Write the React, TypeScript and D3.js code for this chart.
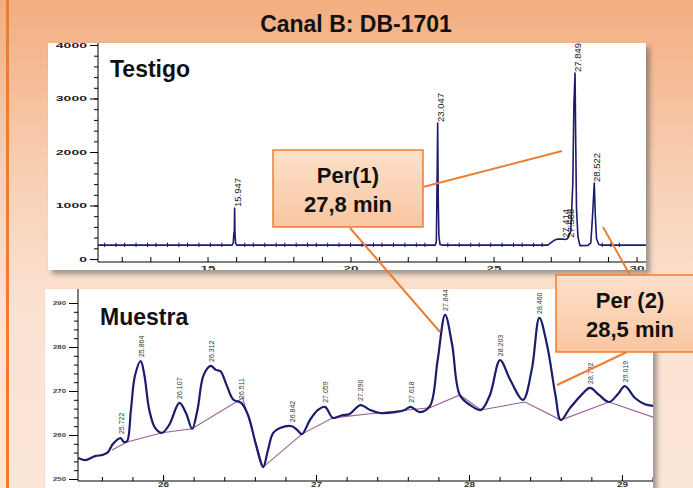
import React, { useEffect, useRef } from "react";
import * as d3 from "d3";

// Testigo (standard) trace: [time in min, signal]
const testigoSignal: [number, number][] = [
  [11.17, 260], [15.86, 260], [15.9, 300], [15.92, 480], [15.935, 500], [15.947, 953],
  [15.96, 470], [15.98, 300], [16.02, 260], [22.96, 260], [23.0, 320], [23.02, 1200],
  [23.047, 2542], [23.065, 1150], [23.09, 420], [23.13, 270], [23.2, 260], [26.9, 260],
  [27.0, 300], [27.12, 350], [27.25, 372], [27.414, 374], [27.5, 366], [27.588, 380],
  [27.7, 520], [27.77, 1400], [27.81, 2900], [27.849, 3477], [27.875, 2100], [27.9, 950],
  [27.95, 420], [28.02, 250], [28.3, 255], [28.4, 300], [28.46, 800], [28.522, 1420],
  [28.555, 850], [28.6, 380], [28.68, 270], [28.8, 260], [30.4, 260],
];
const testigoPeakTimes = [15.947, 23.047, 27.414, 27.588, 27.849, 28.522];
const testigoPeakHeights = [953, 2542, 374, 380, 3477, 1420];
const testigoNoiseTimes = [
  11.4, 11.8, 12.1, 12.5, 12.9, 13.2, 13.6, 14.0, 14.3, 14.7, 15.1, 15.5, 16.3, 16.6,
  17.0, 17.4, 17.7, 18.1, 18.5, 18.8, 19.2, 19.6, 20.0, 20.4, 20.8, 21.1, 21.5, 21.9,
  22.3, 22.6, 23.4, 23.8, 24.2, 24.5, 24.9, 25.3, 25.7, 26.0, 26.4, 26.7, 28.8, 29.1, 29.4,
];
const testigoYTicks = [0, 1000, 2000, 3000, 4000];
const testigoXTicks = [15, 20, 25, 30];

// Muestra (sample) trace
const muestraSignal: [number, number][] = [
  [25.444, 254.8], [25.49, 254.3], [25.556, 255.2], [25.608, 255.5], [25.64, 256.1],
  [25.673, 258], [25.722, 259.3], [25.745, 258.4], [25.765, 258.6], [25.79, 265.7],
  [25.817, 273.6], [25.854, 276.8], [25.878, 273.6], [25.91, 265.7], [25.948, 261.6],
  [25.993, 260.5], [26.04, 262.3], [26.107, 267.3], [26.15, 265], [26.19, 261.4],
  [26.225, 265.7], [26.265, 273.6], [26.312, 275.7], [26.345, 274.8], [26.375, 274.5],
  [26.415, 271.4], [26.46, 268], [26.511, 267.3], [26.556, 264.5], [26.608, 257.7],
  [26.654, 252.7], [26.686, 256.6], [26.72, 260.5], [26.765, 261.6], [26.842, 262],
  [26.878, 261.1], [26.908, 260.2], [26.96, 263.4], [27.013, 265.7], [27.059, 266.4],
  [27.11, 263.9], [27.17, 264.5], [27.22, 264.8], [27.29, 266.8], [27.353, 265.7],
  [27.418, 265], [27.516, 265.2], [27.58, 265.7], [27.618, 266.4], [27.68, 265.2],
  [27.745, 266.6], [27.795, 277], [27.844, 287.3], [27.89, 280.5], [27.94, 269.1],
  [28.007, 266.8], [28.078, 265.7], [28.137, 269.1], [28.203, 277], [28.27, 272.5],
  [28.353, 268], [28.41, 274.8], [28.46, 286.6], [28.51, 280.5], [28.565, 269.1],
  [28.6, 263.4], [28.66, 266.1], [28.74, 269.3], [28.792, 270.7], [28.85, 269.1],
  [28.915, 267.5], [28.974, 269.3], [29.019, 271.1], [29.085, 268.4], [29.15, 267],
  [29.216, 266.6],
];
const muestraBaseline: [number, number][] = [
  [25.667, 256.6], [25.765, 258.4], [25.993, 260.5], [26.19, 261.4], [26.52, 268.4],
  [26.654, 252.7], [26.908, 260.2], [27.11, 263.9], [27.4, 265], [27.745, 266.2],
  [27.94, 269.1], [28.078, 265.7], [28.366, 267.5], [28.6, 263.4], [28.915, 267.5],
  [29.216, 263.9],
];
const muestraPeakTimes = [
  25.722, 25.854, 26.107, 26.312, 26.511, 26.842, 27.059, 27.29, 27.618, 27.844,
  28.203, 28.46, 28.792, 29.019,
];
const muestraPeakHeights = [
  259.3, 276.8, 267.3, 275.7, 267.3, 262, 266.4, 266.8, 266.4, 287.3, 277, 286.6,
  270.7, 271.1,
];
const muestraPeakLabels = [
  "25.722", "25.864", "26.107", "26.312", "26.511", "26.842", "27.059", "27.290",
  "27.618", "27.844", "28.203", "28.460", "28.792", "29.019",
];
const muestraYTicks = [250, 260, 270, 280, 290];
const muestraXTicks = [26, 27, 28, 29];

const NAVY = "#1c1c6e";
const ORANGE = "#ed7d31";
const NARROW = "'Liberation Sans Narrow', 'Arial Narrow', 'Liberation Sans', sans-serif";
const SANS = "'Liberation Sans', Arial, sans-serif";
const BIG = 23;

const App = () => {
  const svgRef = useRef<SVGSVGElement>(null);

  useEffect(() => {
    const w = 693;
    const h = 488;
    const svg = d3.select(svgRef.current).attr("width", w).attr("height", h);
    svg.selectAll("*").remove();

    const defs = svg.append("defs");
    const bg = defs.append("linearGradient").attr("id", "bg").attr("x1", 0).attr("y1", 0).attr("x2", 0).attr("y2", 1);
    bg.append("stop").attr("offset", "0%").attr("stop-color", "#f3ad7f");
    bg.append("stop").attr("offset", "35%").attr("stop-color", "#f8cfb3");
    bg.append("stop").attr("offset", "65%").attr("stop-color", "#fbe3d3");
    bg.append("stop").attr("offset", "100%").attr("stop-color", "#fce6d8");
    const box = defs.append("linearGradient").attr("id", "box").attr("x1", 0).attr("y1", 0).attr("x2", 0).attr("y2", 1);
    box.append("stop").attr("offset", "0%").attr("stop-color", "#fde0ca");
    box.append("stop").attr("offset", "100%").attr("stop-color", "#f9c6a1");
    const sh = defs.append("filter").attr("id", "sh").attr("x", "-5%").attr("y", "-5%").attr("width", "115%").attr("height", "120%");
    sh.append("feDropShadow").attr("dx", 4).attr("dy", 4).attr("stdDeviation", 2.5)
      .attr("flood-color", "#555").attr("flood-opacity", 0.55);
    defs.append("clipPath").attr("id", "clipT").append("rect").attr("x", 48).attr("y", 43).attr("width", 598).attr("height", 227);
    defs.append("clipPath").attr("id", "clipM").append("rect").attr("x", 45).attr("y", 289).attr("width", 608).attr("height", 199);

    // background
    svg.append("rect").attr("width", w).attr("height", h).attr("fill", "url(#bg)");
    svg.append("rect").attr("x", 6).attr("y", 0).attr("width", 3).attr("height", h).attr("fill", ORANGE);

    svg.append("text").attr("x", 356).attr("y", 32).attr("text-anchor", "middle")
      .attr("font-family", SANS).attr("font-weight", "bold").attr("font-size", BIG)
      .attr("fill", "#111").text("Canal B: DB-1701");

    // ---------- Testigo panel ----------
    svg.append("rect").attr("x", 48).attr("y", 43).attr("width", 598).attr("height", 227)
      .attr("fill", "#fff").attr("filter", "url(#sh)");
    const gT = svg.append("g").attr("clip-path", "url(#clipT)");

    const xT = d3.scaleLinear().domain([11.17, 30.4]).range([98, 648]);
    const yT = d3.scaleLinear().domain([0, 4000]).range([259, 45]);
    const axisYT = 262;

    const yAxT = gT.append("g").attr("transform", "translate(98,0)")
      .call(d3.axisLeft(yT).tickValues(testigoYTicks).tickSize(8).tickPadding(3).tickFormat(d3.format("d")));
    yAxT.select(".domain").remove();
    yAxT.selectAll("text").attr("font-family", SANS).attr("font-size", 7).attr("font-weight", "bold")
      .attr("fill", "#222")
      .attr("textLength", (d: any) => String(d).length * 7.8).attr("lengthAdjust", "spacingAndGlyphs");
    const yMinorT = gT.append("g").attr("transform", "translate(98,0)")
      .call(d3.axisLeft(yT).tickValues(d3.range(0, 4001, 200)).tickSize(4).tickFormat(() => ""));
    yMinorT.select(".domain").remove();
    gT.append("line").attr("x1", 98).attr("x2", 98).attr("y1", 43).attr("y2", axisYT).attr("stroke", "#000");

    const xAxT = gT.append("g").attr("transform", `translate(0,${axisYT})`)
      .call(d3.axisBottom(xT).tickValues(d3.range(12, 31, 1)).tickSize(-5).tickFormat(() => ""));
    xAxT.select(".domain").remove();
    const xLabT = gT.append("g").attr("transform", `translate(0,${axisYT})`)
      .call(d3.axisBottom(xT).tickValues(testigoXTicks).tickSize(0).tickPadding(3).tickFormat(d3.format("d")));
    xLabT.select(".domain").remove();
    xLabT.selectAll("text").attr("font-family", SANS).attr("font-size", 8).attr("font-weight", "bold")
      .attr("fill", "#333").attr("textLength", 15).attr("lengthAdjust", "spacingAndGlyphs");
    gT.append("line").attr("x1", 98).attr("x2", 648).attr("y1", axisYT).attr("y2", axisYT).attr("stroke", "#000");

    const lineT = d3.line<[number, number]>().x((d) => xT(d[0])).y((d) => yT(d[1]));
    gT.append("path").attr("d", lineT(testigoSignal)).attr("fill", "none")
      .attr("stroke", NAVY).attr("stroke-width", 1.6).attr("stroke-linejoin", "round");
    gT.selectAll(".noise").data(testigoNoiseTimes).join("line")
      .attr("x1", (d) => xT(d)).attr("x2", (d) => xT(d))
      .attr("y1", yT(260) - 2.5).attr("y2", yT(260) + 2).attr("stroke", NAVY).attr("stroke-width", 1);

    gT.selectAll(".plab").data(testigoPeakTimes).join("text")
      .attr("transform", (d, i) => `translate(${xT(d) + 6},${yT(testigoPeakHeights[i]) - 1}) rotate(-90)`)
      .attr("font-family", NARROW).attr("font-size", 9.5).attr("fill", "#222")
      .text((d) => d.toFixed(3));

    gT.append("text").attr("x", 110).attr("y", 77).attr("font-family", SANS)
      .attr("font-weight", "bold").attr("font-size", BIG).attr("fill", "#111").text("Testigo");

    // ---------- Muestra panel ----------
    svg.append("rect").attr("x", 45).attr("y", 289).attr("width", 608).attr("height", 210)
      .attr("fill", "#fff").attr("filter", "url(#sh)");
    const gM = svg.append("g").attr("clip-path", "url(#clipM)");

    const xM = d3.scaleLinear().domain([25.444, 29.216]).range([78, 655]);
    const yM = d3.scaleLinear().domain([250, 290]).range([479, 303]);
    const axisYM = 481;

    const yAxM = gM.append("g").attr("transform", "translate(78,0)")
      .call(d3.axisLeft(yM).tickValues(muestraYTicks).tickSize(9).tickPadding(3).tickFormat(d3.format("d")));
    yAxM.select(".domain").remove();
    yAxM.selectAll("text").attr("font-family", SANS).attr("font-size", 6).attr("font-weight", "bold")
      .attr("fill", "#444").attr("textLength", 13).attr("lengthAdjust", "spacingAndGlyphs");
    const yMinorM = gM.append("g").attr("transform", "translate(78,0)")
      .call(d3.axisLeft(yM).tickValues(d3.range(250, 291, 2)).tickSize(4).tickFormat(() => ""));
    yMinorM.select(".domain").remove();
    gM.append("line").attr("x1", 78).attr("x2", 78).attr("y1", 289).attr("y2", axisYM).attr("stroke", "#000");

    const xAxM = gM.append("g").attr("transform", `translate(0,${axisYM})`)
      .call(d3.axisBottom(xM).tickValues(d3.range(25.6, 29.21, 0.2)).tickSize(-4).tickFormat(() => ""));
    xAxM.select(".domain").remove();
    const xLabM = gM.append("g").attr("transform", `translate(0,${axisYM})`)
      .call(d3.axisBottom(xM).tickValues(muestraXTicks).tickSize(-6).tickPadding(1).tickFormat(d3.format("d")));
    xLabM.select(".domain").remove();
    xLabM.selectAll("text").attr("font-family", SANS).attr("font-size", 7).attr("font-weight", "bold")
      .attr("fill", "#333").attr("textLength", 11).attr("lengthAdjust", "spacingAndGlyphs");
    gM.append("line").attr("x1", 78).attr("x2", 653).attr("y1", axisYM).attr("y2", axisYM).attr("stroke", "#000");

    const lineM = d3.line<[number, number]>().x((d) => xM(d[0])).y((d) => yM(d[1]));
    gM.append("path").attr("d", lineM(muestraBaseline)).attr("fill", "none")
      .attr("stroke", "#9a5c8c").attr("stroke-width", 1.1);
    gM.append("path").attr("d", lineM.curve(d3.curveCatmullRom.alpha(0.5))(muestraSignal)).attr("fill", "none")
      .attr("stroke", NAVY).attr("stroke-width", 2.2).attr("stroke-linejoin", "round");

    gM.selectAll(".mlab").data(muestraPeakTimes).join("text")
      .attr("transform", (d, i) => `translate(${xM(d) + 3},${yM(muestraPeakHeights[i]) - 4}) rotate(-90)`)
      .attr("font-family", NARROW).attr("font-size", 7).attr("fill", "#333")
      .text((d, i) => muestraPeakLabels[i]);

    gM.append("text").attr("x", 100).attr("y", 325).attr("font-family", SANS)
      .attr("font-weight", "bold").attr("font-size", BIG).attr("fill", "#111").text("Muestra");

    // ---------- callouts ----------
    const callLines = [
      [423, 187, 562, 151],
      [350, 228, 440, 332],
      [630, 275, 603, 227],
      [627, 352, 557, 385],
    ];
    svg.selectAll(".cl").data(callLines).join("line")
      .attr("x1", (d) => d[0]).attr("y1", (d) => d[1]).attr("x2", (d) => d[2]).attr("y2", (d) => d[3])
      .attr("stroke", ORANGE).attr("stroke-width", 2);

    const boxes = [
      { x: 273, y: 150, w: 150, h: 77, cx: 348, l1: "Per(1)", l2: "27,8 min" },
      { x: 556, y: 275, w: 150, h: 77, cx: 630, l1: "Per (2)", l2: "28,5 min" },
    ];
    boxes.forEach((b) => {
      svg.append("rect").attr("x", b.x).attr("y", b.y).attr("width", b.w).attr("height", b.h)
        .attr("fill", "url(#box)").attr("stroke", ORANGE).attr("stroke-width", 1.5);
      svg.append("text").attr("x", b.cx).attr("y", b.y + 33).attr("text-anchor", "middle")
        .attr("font-family", SANS).attr("font-weight", "bold").attr("font-size", 22).attr("fill", "#111").text(b.l1);
      svg.append("text").attr("x", b.cx).attr("y", b.y + 62).attr("text-anchor", "middle")
        .attr("font-family", SANS).attr("font-weight", "bold").attr("font-size", 22).attr("fill", "#111").text(b.l2);
    });
  }, []);

  return (
    <div style={{ position: "absolute", left: 0, top: 0 }}>
      <svg ref={svgRef} style={{ display: "block" }}></svg>
    </div>
  );
};

export default App;
